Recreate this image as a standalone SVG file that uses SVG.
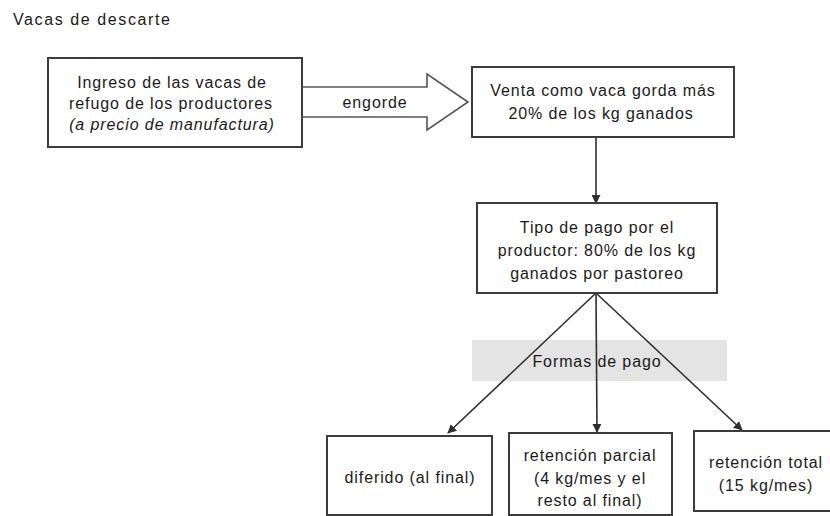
<svg xmlns="http://www.w3.org/2000/svg" width="830" height="516" viewBox="0 0 830 516">
  <style>
    .bg { fill: #ffffff; }
    .box { fill: #ffffff; stroke: #3c3c3c; stroke-width: 2; }
    .band { fill: #e4e4e4; }
    .link { stroke: #2e2e2e; stroke-width: 1.6; fill: none; }
    .fat { fill: #ffffff; stroke: #555555; stroke-width: 1.6; stroke-linejoin: miter; }
    text { font-family: "Liberation Sans", Arial, sans-serif; font-size: 16px; letter-spacing: 0.9px; fill: #1a1a1a; }
    .c { text-anchor: middle; }
    .it { font-style: italic; }
  </style>
  <defs>
    <marker id="tip" viewBox="0 0 10 10" refX="9" refY="5" markerWidth="9" markerHeight="9" markerUnits="userSpaceOnUse" orient="auto">
      <path d="M0,0 L10,5 L0,10 z" fill="#2e2e2e"/>
    </marker>
  </defs>

  <rect class="bg" x="0" y="0" width="830" height="516"/>

  <text x="13" y="25" style="letter-spacing:1.6px">Vacas de descarte</text>

  <!-- payment-forms band sits under the connectors -->
  <g id="formas">
    <rect class="band" x="472" y="340" width="255" height="41"/>
    <text class="c" x="597" y="367">Formas de pago</text>
  </g>

  <g id="connectors">
    <polygon class="fat" points="302,87 427,87 427,74 468,102 427,130 427,117 302,117"/>
    <text class="c" x="375" y="108">engorde</text>
    <line class="link" x1="596" y1="137" x2="596" y2="203" marker-end="url(#tip)"/>
    <line class="link" x1="596" y1="293" x2="448" y2="433" marker-end="url(#tip)"/>
    <line class="link" x1="596" y1="293" x2="597" y2="432" marker-end="url(#tip)"/>
    <line class="link" x1="596" y1="293" x2="742" y2="430" marker-end="url(#tip)"/>
  </g>

  <g id="ingreso">
    <rect class="box" x="48" y="58" width="254" height="89"/>
    <text class="c" x="172" y="88">Ingreso de las vacas de</text>
    <text class="c" x="171" y="109">refugo de los productores</text>
    <text class="c it" x="172" y="130">(a precio de manufactura)</text>
  </g>

  <g id="venta">
    <rect class="box" x="472" y="67" width="262" height="70"/>
    <text class="c" x="603" y="96">Venta como vaca gorda más</text>
    <text class="c" x="601" y="119">20% de los kg ganados</text>
  </g>

  <g id="tipo-pago">
    <rect class="box" x="477" y="203" width="240" height="90"/>
    <text class="c" x="597" y="233">Tipo de pago por el</text>
    <text class="c" x="597" y="256">productor: 80% de los kg</text>
    <text class="c" x="597" y="279">ganados por pastoreo</text>
  </g>

  <g id="diferido">
    <rect class="box" x="327" y="436" width="165" height="79"/>
    <text class="c" x="410" y="483">diferido (al final)</text>
  </g>

  <g id="retencion-parcial">
    <rect class="box" x="509" y="433" width="163" height="82"/>
    <text class="c" x="590" y="461">retención parcial</text>
    <text class="c" x="590" y="484">(4 kg/mes y el</text>
    <text class="c" x="590" y="506">resto al final)</text>
  </g>

  <g id="retencion-total">
    <rect class="box" x="694" y="431" width="146" height="80"/>
    <text class="c" x="766" y="468">retención total</text>
    <text class="c" x="766" y="491">(15 kg/mes)</text>
  </g>
</svg>
